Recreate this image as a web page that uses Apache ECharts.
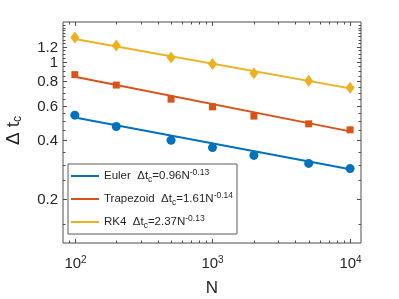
<!DOCTYPE html>
<html><head><meta charset="utf-8">
<script src="https://cdn.jsdelivr.net/npm/echarts@6/dist/echarts.min.js"></script>
<style>html,body{margin:0;padding:0;background:#fff}#c{width:399px;height:299px}</style>
</head><body><div id="c"></div>
<script>
// ---- data ----
const N = [100, 200, 500, 1000, 2000, 5000, 10000];
const euler = [0.537, 0.470, 0.400, 0.367, 0.335, 0.305, 0.287];
const trapezoid = [0.863, 0.764, 0.648, 0.592, 0.531, 0.485, 0.452];
const rk4 = [1.335, 1.214, 1.054, 0.979, 0.877, 0.804, 0.741];
const fitN = [100, 10000];
const eulerFit = [0.523, 0.285];
const trapezoidFit = [0.843, 0.444];
const rk4Fit = [1.31, 0.735];
const seriesNames = ['Euler', 'Trapezoid', 'RK4'];
const fitCoef = ['0.96', '1.61', '2.37'];
const fitExp = ['-0.13', '-0.14', '-0.13'];
const xRange = [82, 12000];
const yRange = [0.12, 1.6];
const xMajorTicks = [100, 1000, 10000];
const xMajorExp = ['2', '3', '4'];
const xMinorTicks = [90, 200, 300, 400, 500, 600, 700, 800, 900, 2000, 3000, 4000, 5000, 6000, 7000, 8000, 9000];
const yTickLabels = [0.2, 0.4, 0.6, 0.8, 1, 1.2];
const yMinorTicks = [0.15, 0.25, 0.3, 0.35, 0.45, 0.5, 0.55, 0.65, 0.7, 0.75, 0.85, 0.9, 0.95, 1.05, 1.1, 1.15, 1.25, 1.3, 1.35, 1.4, 1.45, 1.5, 1.55];

const colors = ['#0072BD', '#D95319', '#EDB120'];
const FONT = "'Liberation Sans', Arial, Helvetica, sans-serif";
const AX = '#4d4d4d';

const ptsData = [euler, trapezoid, rk4];
const fitData = [eulerFit, trapezoidFit, rk4Fit];
const symbols = ['circle', 'rect', 'diamond'];
const symSizes = [9, 7, [9, 12]];

const series = [];
for (let i = 0; i < 3; i++) {
  series.push({
    name: seriesNames[i], type: 'line', data: fitN.map((n, k) => [n, fitData[i][k]]),
    showSymbol: false, lineStyle: { color: colors[i], width: 2 }, itemStyle: { color: colors[i] },
    silent: true, z: 2
  });
  series.push({
    name: seriesNames[i] + ' data', type: 'scatter', data: N.map((n, k) => [n, ptsData[i][k]]),
    symbol: symbols[i], symbolSize: symSizes[i], itemStyle: { color: colors[i], opacity: 1 },
    silent: true, z: 3
  });
}

function crisp(v) { return Math.round(v) + 0.5; }

series.push({
  type: 'custom', silent: true, clip: false, z: 10,
  data: [[xRange[0], yRange[0]]],
  renderItem: function (params, api) {
    const cs = params.coordSys;
    const L = cs.x, R = cs.x + cs.width, T = cs.y, B = cs.y + cs.height;
    const ch = [];
    const line = (x1, y1, x2, y2) => ch.push({ type: 'line', shape: { x1, y1, x2, y2 }, style: { stroke: AX, lineWidth: 1 } });
    xMajorTicks.forEach((v, k) => {
      const x = crisp(api.coord([v, yRange[0]])[0]);
      line(x, B, x, B - 4); line(x, T, x, T + 4);
      ch.push({ type: 'text', style: {
        text: '{b|10}{e|' + xMajorExp[k] + '}', x: x, y: B + 21, align: 'center', verticalAlign: 'middle',
        fill: '#262626', fontFamily: FONT,
        rich: { b: { fontSize: 15, lineHeight: 18, fontFamily: FONT, fill: '#262626' },
                e: { fontSize: 10, lineHeight: 10, verticalAlign: 'top', fontFamily: FONT, fill: '#262626' } }
      } });
    });
    xMinorTicks.forEach(v => {
      const x = crisp(api.coord([v, yRange[0]])[0]);
      line(x, B, x, B - 2.5); line(x, T, x, T + 2.5);
    });
    yTickLabels.forEach(v => {
      const y = crisp(api.coord([xRange[0], v])[1]);
      line(L, y, L + 4, y); line(R, y, R - 4, y);
      ch.push({ type: 'text', style: { text: String(v), x: L - 5, y: y, align: 'right', verticalAlign: 'middle',
        fontSize: 15, fontFamily: FONT, fill: '#262626' } });
    });
    yMinorTicks.forEach(v => {
      const y = crisp(api.coord([xRange[0], v])[1]);
      line(L, y, L + 2.5, y); line(R, y, R - 2.5, y);
    });
    // axis titles
    ch.push({ type: 'text', style: { text: 'N', x: (L + R) / 2, y: B + 45, align: 'center', verticalAlign: 'middle',
      fontSize: 17, fontFamily: FONT, fill: '#262626' } });
    ch.push({ type: 'text', x: 14, y: (T + B) / 2 - 2, rotation: Math.PI / 2, style: {
      text: '{m|Δ t}{s|c}', x: 0, y: 0, align: 'center', verticalAlign: 'middle', fill: '#262626',
      rich: { m: { fontSize: 19, lineHeight: 20, fontFamily: FONT, fill: '#262626' },
              s: { fontSize: 12, lineHeight: 12, verticalAlign: 'bottom', fontFamily: FONT, fill: '#262626' } }
    } });
    return { type: 'group', children: ch };
  }
});

const chart = echarts.init(document.getElementById('c'), null, { renderer: 'canvas' });
chart.setOption({
  animation: false,
  backgroundColor: '#fff',
  grid: { left: 63, right: 38, top: 22, bottom: 56, show: true, borderColor: AX, borderWidth: 1, backgroundColor: 'transparent' },
  xAxis: { type: 'log', logBase: 10, min: xRange[0], max: xRange[1],
    axisLine: { show: false }, axisTick: { show: false }, axisLabel: { show: false }, splitLine: { show: false } },
  yAxis: { type: 'log', logBase: 10, min: yRange[0], max: yRange[1],
    axisLine: { show: false }, axisTick: { show: false }, axisLabel: { show: false }, splitLine: { show: false } },
  legend: {
    data: seriesNames, orient: 'vertical', left: 68, top: 164, selectedMode: false,
    icon: 'rect', itemWidth: 28, itemHeight: 2, itemGap: 7,
    padding: [4, 4, 4, 3], borderColor: '#5a5a5a', borderWidth: 1, backgroundColor: '#fff',
    formatter: function (name) {
      const i = seriesNames.indexOf(name);
      return '{n|' + name + '  Δt}{sub|c}{n|=' + fitCoef[i] + 'N}{sup|' + fitExp[i] + '}';
    },
    textStyle: {
      fontFamily: FONT, fontSize: 11.5, color: '#262626',
      rich: {
        n: { fontSize: 11.5, lineHeight: 16, fontFamily: FONT, color: '#262626' },
        sub: { fontSize: 8.5, lineHeight: 8, verticalAlign: 'bottom', fontFamily: FONT, color: '#262626' },
        sup: { fontSize: 8.5, lineHeight: 8, verticalAlign: 'top', fontFamily: FONT, color: '#262626' }
      }
    }
  },
  series: series
});
</script></body></html>
